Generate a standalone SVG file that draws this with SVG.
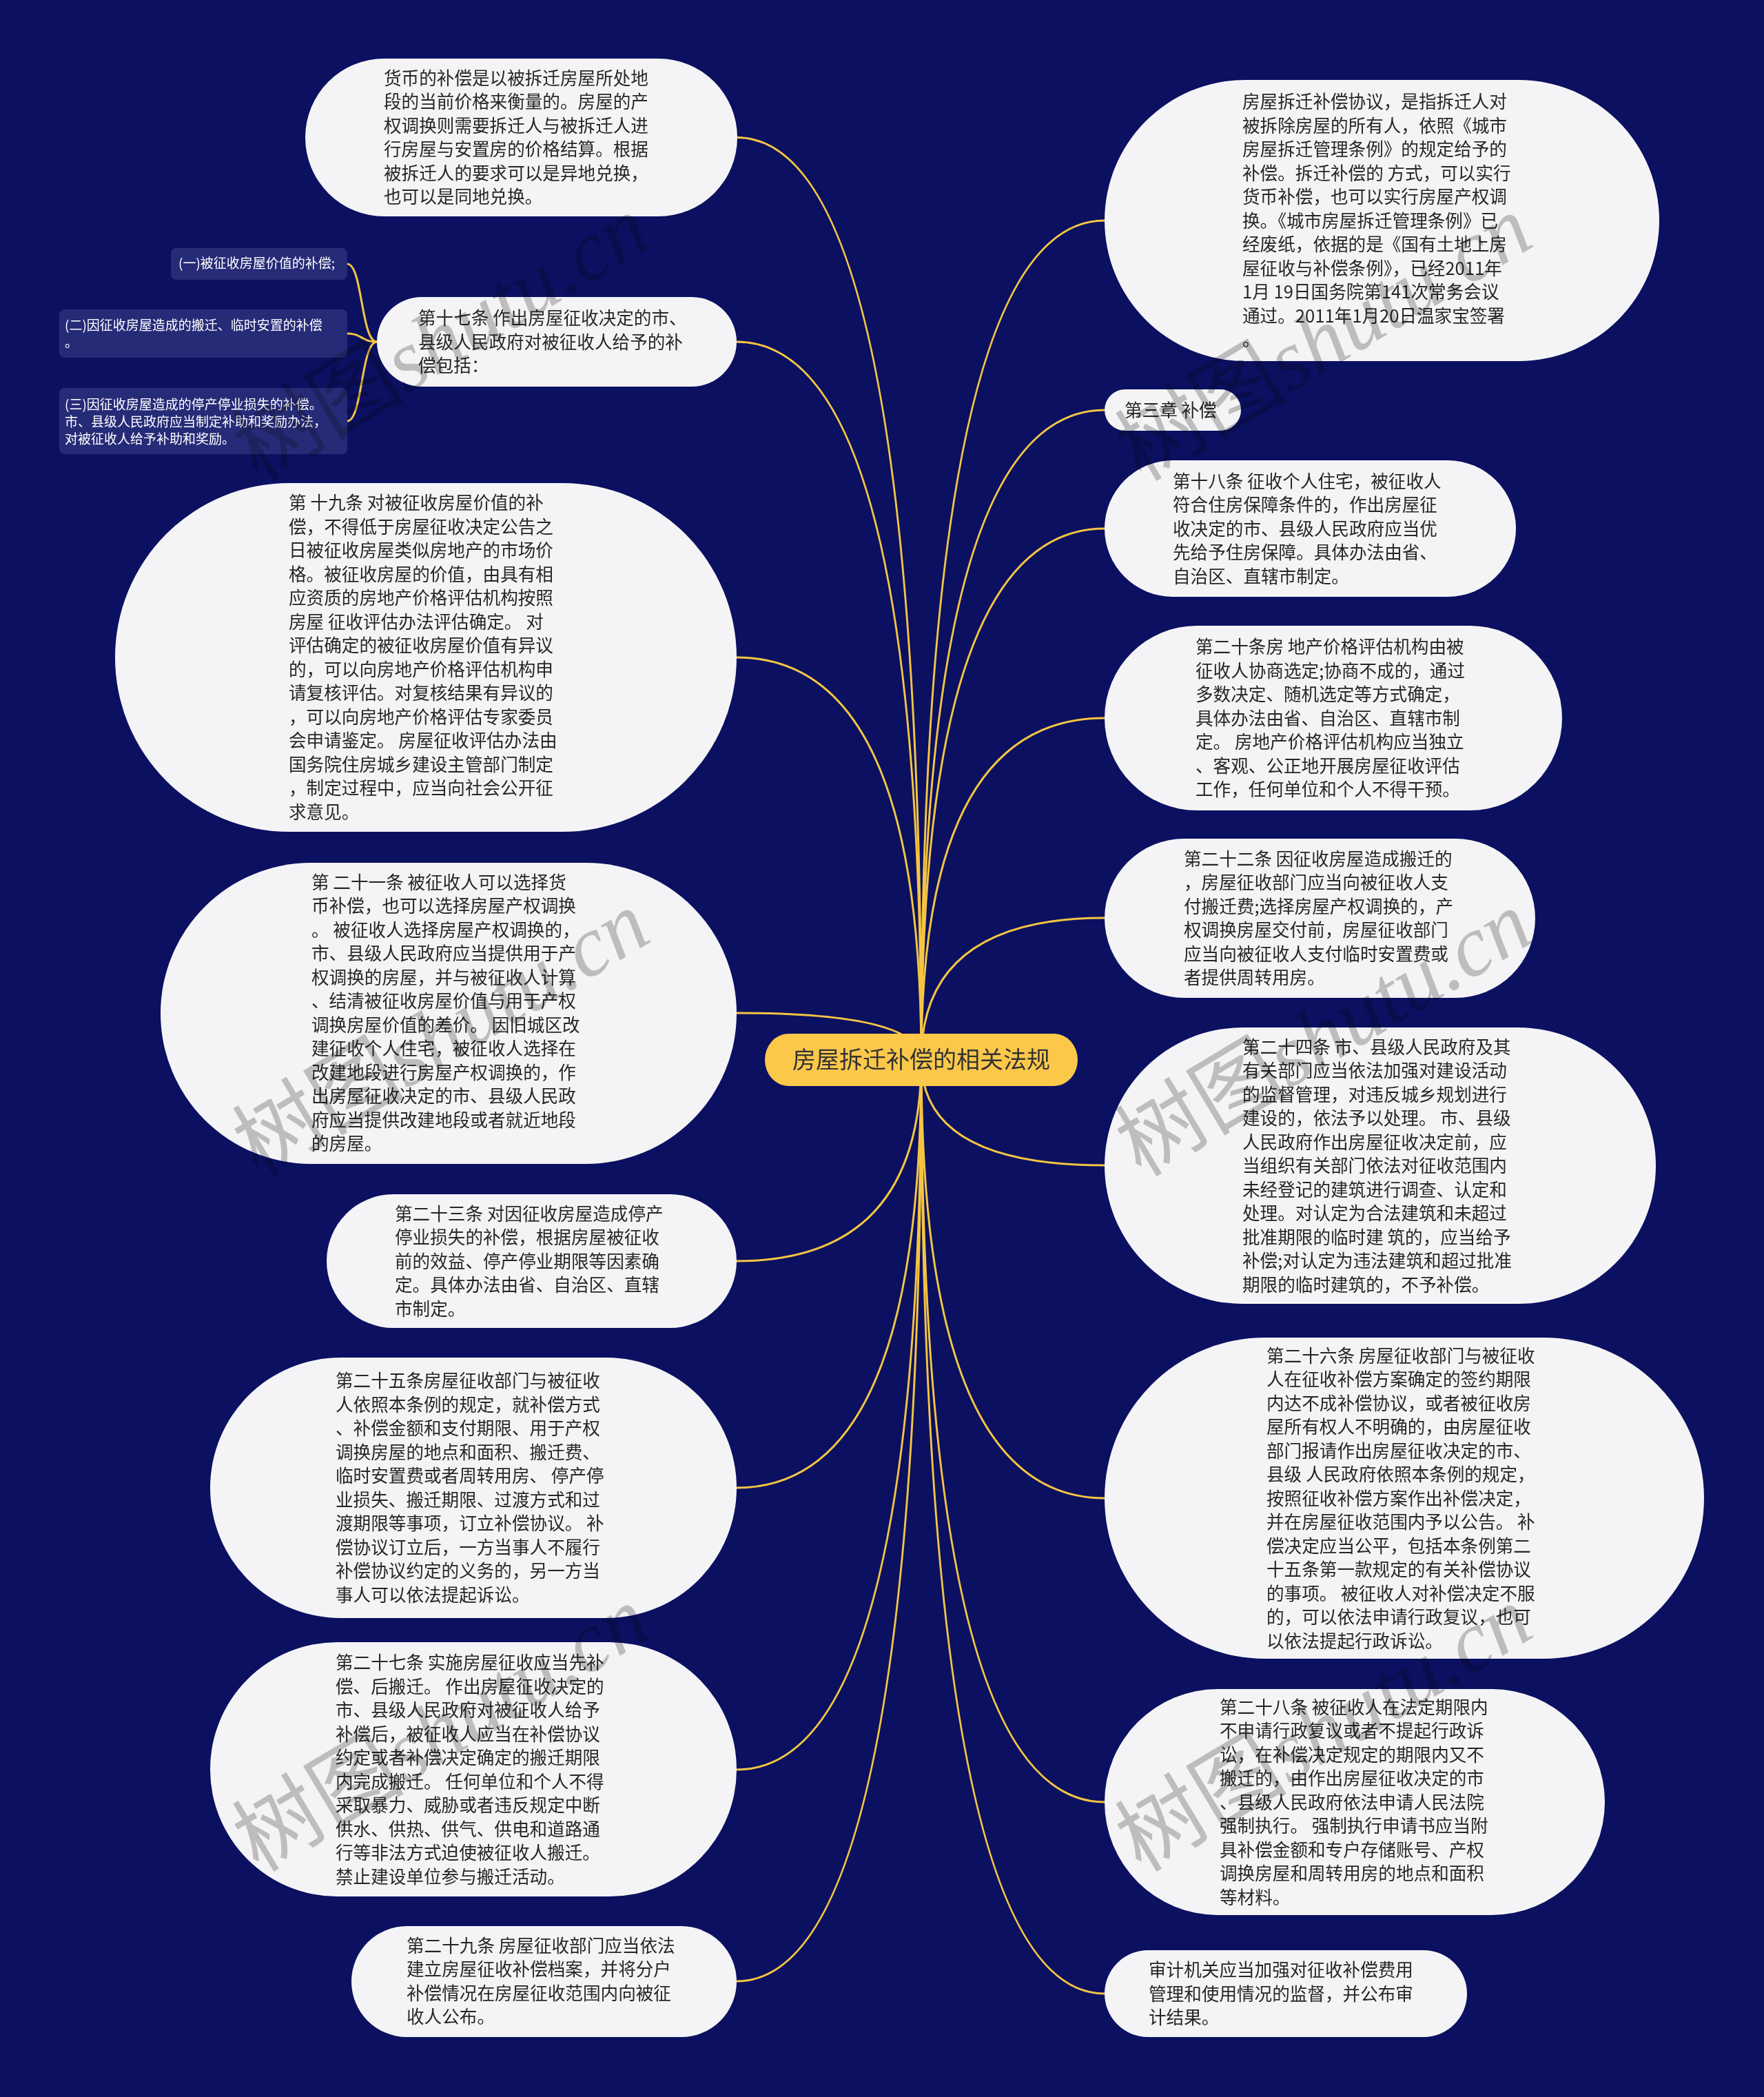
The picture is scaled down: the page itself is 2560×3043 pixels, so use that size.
<svg xmlns="http://www.w3.org/2000/svg" width="2560" height="3043" viewBox="0 0 2560 3043">
<style>
.bg{fill:#0b1061}
.node rect{fill:#f4f4f6}
.node text{font-family:"Noto Sans CJK SC","Liberation Sans",sans-serif;font-size:25.6px;fill:#262626}
.sub rect{fill:#262b78}
.sub text{font-family:"Noto Sans CJK SC","Liberation Sans",sans-serif;font-size:19px;fill:#ffffff}
.links path{fill:none;stroke:#f5c542;stroke-width:3}
.root rect{fill:#fbc84a}
.root text{font-family:"Noto Sans CJK SC","Liberation Sans",sans-serif;font-size:34px;fill:#333333}
.wm text{font-family:"Noto Sans CJK SC",sans-serif;font-size:125px;fill:#c6c6c6;mix-blend-mode:multiply}
.wm tspan.l{font-family:"Liberation Serif",serif;font-style:italic}
</style>
<rect class="bg" x="0" y="0" width="2560" height="3043"/>
<g class="links" id="connectors">
<path d="M1337 1538 Q1337 199.5 1069 199.5"/>
<path d="M1337 1538 Q1337 496 1069 496"/>
<path d="M1337 1538 Q1337 954 1069 954"/>
<path d="M1337 1538 Q1337 1470 1069 1470"/>
<path d="M1337 1538 Q1337 1830 1069 1830"/>
<path d="M1337 1538 Q1337 2159 1069 2159"/>
<path d="M1337 1538 Q1337 2568 1069 2568"/>
<path d="M1337 1538 Q1337 2875 1069 2875"/>
<path d="M1337 1538 Q1337 320 1603 320"/>
<path d="M1337 1538 Q1337 595 1603 595"/>
<path d="M1337 1538 Q1337 767 1603 767"/>
<path d="M1337 1538 Q1337 1042 1603 1042"/>
<path d="M1337 1538 Q1337 1332 1603 1332"/>
<path d="M1337 1538 Q1337 1691 1603 1691"/>
<path d="M1337 1538 Q1337 2174 1603 2174"/>
<path d="M1337 1538 Q1337 2615 1603 2615"/>
<path d="M1337 1538 Q1337 2893 1603 2893"/>
<path d="M547 496 C524 496 526 383 504 383"/>
<path d="M547 496 C524 496 526 484 504 484"/>
<path d="M547 496 C524 496 526 611 504 611"/>
</g>
<g class="root" id="root">
<rect x="1110" y="1500" width="454" height="76" rx="34" ry="38"/>
<text x="1337" y="1550" text-anchor="middle">房屋拆迁补偿的相关法规</text>
</g>
<g class="node" id="L1">
<rect x="443" y="85" width="627" height="229" rx="114.5"/>
<text x="557" y="122.75"><tspan x="557">货币的补偿是以被拆迁房屋所处地</tspan><tspan x="557" dy="34.5">段的当前价格来衡量的。房屋的产</tspan><tspan x="557" dy="34.5">权调换则需要拆迁人与被拆迁人进</tspan><tspan x="557" dy="34.5">行房屋与安置房的价格结算。根据</tspan><tspan x="557" dy="34.5">被拆迁人的要求可以是异地兑换，</tspan><tspan x="557" dy="34.5">也可以是同地兑换。</tspan></text>
</g>
<g class="node" id="L2">
<rect x="547" y="431" width="522" height="130" rx="65"/>
<text x="607" y="471"><tspan x="607">第十七条 作出房屋征收决定的市、</tspan><tspan x="607" dy="34.5">县级人民政府对被征收人给予的补</tspan><tspan x="607" dy="34.5">偿包括：</tspan></text>
</g>
<g class="sub" id="S1">
<rect x="248" y="360" width="256" height="46" rx="8"/>
<text x="259" y="389">(一)被征收房屋价值的补偿;</text>
</g>
<g class="sub" id="S2">
<rect x="86" y="449" width="418" height="70" rx="8"/>
<text x="94" y="479"><tspan x="94">(二)因征收房屋造成的搬迁、临时安置的补偿</tspan><tspan x="94" dy="25">。</tspan></text>
</g>
<g class="sub" id="S3">
<rect x="86" y="563" width="418" height="96" rx="8"/>
<text x="94" y="594"><tspan x="94">(三)因征收房屋造成的停产停业损失的补偿。</tspan><tspan x="94" dy="25">市、县级人民政府应当制定补助和奖励办法，</tspan><tspan x="94" dy="25">对被征收人给予补助和奖励。</tspan></text>
</g>
<g class="node" id="L3">
<rect x="167" y="701" width="902" height="506" rx="253"/>
<text x="419" y="739.25"><tspan x="419">第 十九条 对被征收房屋价值的补</tspan><tspan x="419" dy="34.5">偿，不得低于房屋征收决定公告之</tspan><tspan x="419" dy="34.5">日被征收房屋类似房地产的市场价</tspan><tspan x="419" dy="34.5">格。被征收房屋的价值，由具有相</tspan><tspan x="419" dy="34.5">应资质的房地产价格评估机构按照</tspan><tspan x="419" dy="34.5">房屋 征收评估办法评估确定。 对</tspan><tspan x="419" dy="34.5">评估确定的被征收房屋价值有异议</tspan><tspan x="419" dy="34.5">的，可以向房地产价格评估机构申</tspan><tspan x="419" dy="34.5">请复核评估。对复核结果有异议的</tspan><tspan x="419" dy="34.5">，可以向房地产价格评估专家委员</tspan><tspan x="419" dy="34.5">会申请鉴定。 房屋征收评估办法由</tspan><tspan x="419" dy="34.5">国务院住房城乡建设主管部门制定</tspan><tspan x="419" dy="34.5">，制定过程中，应当向社会公开征</tspan><tspan x="419" dy="34.5">求意见。</tspan></text>
</g>
<g class="node" id="L4">
<rect x="233" y="1252" width="836" height="437" rx="218.5"/>
<text x="452" y="1289.75"><tspan x="452">第 二十一条 被征收人可以选择货</tspan><tspan x="452" dy="34.5">币补偿，也可以选择房屋产权调换</tspan><tspan x="452" dy="34.5">。 被征收人选择房屋产权调换的，</tspan><tspan x="452" dy="34.5">市、县级人民政府应当提供用于产</tspan><tspan x="452" dy="34.5">权调换的房屋，并与被征收人计算</tspan><tspan x="452" dy="34.5">、结清被征收房屋价值与用于产权</tspan><tspan x="452" dy="34.5">调换房屋价值的差价。 因旧城区改</tspan><tspan x="452" dy="34.5">建征收个人住宅，被征收人选择在</tspan><tspan x="452" dy="34.5">改建地段进行房屋产权调换的，作</tspan><tspan x="452" dy="34.5">出房屋征收决定的市、县级人民政</tspan><tspan x="452" dy="34.5">府应当提供改建地段或者就近地段</tspan><tspan x="452" dy="34.5">的房屋。</tspan></text>
</g>
<g class="node" id="L5">
<rect x="474" y="1733" width="595" height="194" rx="97"/>
<text x="573" y="1770.5"><tspan x="573">第二十三条 对因征收房屋造成停产</tspan><tspan x="573" dy="34.5">停业损失的补偿，根据房屋被征收</tspan><tspan x="573" dy="34.5">前的效益、停产停业期限等因素确</tspan><tspan x="573" dy="34.5">定。具体办法由省、自治区、直辖</tspan><tspan x="573" dy="34.5">市制定。</tspan></text>
</g>
<g class="node" id="L6">
<rect x="305" y="1970" width="764" height="378" rx="189"/>
<text x="487" y="2013.25"><tspan x="487">第二十五条房屋征收部门与被征收</tspan><tspan x="487" dy="34.5">人依照本条例的规定，就补偿方式</tspan><tspan x="487" dy="34.5">、补偿金额和支付期限、用于产权</tspan><tspan x="487" dy="34.5">调换房屋的地点和面积、搬迁费、</tspan><tspan x="487" dy="34.5">临时安置费或者周转用房、 停产停</tspan><tspan x="487" dy="34.5">业损失、搬迁期限、过渡方式和过</tspan><tspan x="487" dy="34.5">渡期限等事项，订立补偿协议。 补</tspan><tspan x="487" dy="34.5">偿协议订立后，一方当事人不履行</tspan><tspan x="487" dy="34.5">补偿协议约定的义务的，另一方当</tspan><tspan x="487" dy="34.5">事人可以依法提起诉讼。</tspan></text>
</g>
<g class="node" id="L7">
<rect x="305" y="2383" width="764" height="369" rx="184.5"/>
<text x="487" y="2422.25"><tspan x="487">第二十七条 实施房屋征收应当先补</tspan><tspan x="487" dy="34.5">偿、后搬迁。 作出房屋征收决定的</tspan><tspan x="487" dy="34.5">市、县级人民政府对被征收人给予</tspan><tspan x="487" dy="34.5">补偿后，被征收人应当在补偿协议</tspan><tspan x="487" dy="34.5">约定或者补偿决定确定的搬迁期限</tspan><tspan x="487" dy="34.5">内完成搬迁。 任何单位和个人不得</tspan><tspan x="487" dy="34.5">采取暴力、威胁或者违反规定中断</tspan><tspan x="487" dy="34.5">供水、供热、供气、供电和道路通</tspan><tspan x="487" dy="34.5">行等非法方式迫使被征收人搬迁。</tspan><tspan x="487" dy="34.5">禁止建设单位参与搬迁活动。</tspan></text>
</g>
<g class="node" id="L8">
<rect x="510" y="2795" width="559" height="161" rx="80.5"/>
<text x="590" y="2832.75"><tspan x="590">第二十九条 房屋征收部门应当依法</tspan><tspan x="590" dy="34.5">建立房屋征收补偿档案，并将分户</tspan><tspan x="590" dy="34.5">补偿情况在房屋征收范围内向被征</tspan><tspan x="590" dy="34.5">收人公布。</tspan></text>
</g>
<g class="node" id="R1">
<rect x="1603" y="116" width="805" height="408" rx="204"/>
<text x="1803" y="157"><tspan x="1803">房屋拆迁补偿协议，是指拆迁人对</tspan><tspan x="1803" dy="34.5">被拆除房屋的所有人，依照《城市</tspan><tspan x="1803" dy="34.5">房屋拆迁管理条例》的规定给予的</tspan><tspan x="1803" dy="34.5">补偿。拆迁补偿的 方式，可以实行</tspan><tspan x="1803" dy="34.5">货币补偿，也可以实行房屋产权调</tspan><tspan x="1803" dy="34.5">换。《城市房屋拆迁管理条例》已</tspan><tspan x="1803" dy="34.5">经废纸，依据的是《国有土地上房</tspan><tspan x="1803" dy="34.5">屋征收与补偿条例》，已经2011年</tspan><tspan x="1803" dy="34.5">1月 19日国务院第141次常务会议</tspan><tspan x="1803" dy="34.5">通过。2011年1月20日温家宝签署</tspan><tspan x="1803" dy="34.5">。</tspan></text>
</g>
<g class="node" id="R2">
<rect x="1603" y="565" width="198" height="60" rx="30"/>
<text x="1632" y="604.5">第三章 补偿</text>
</g>
<g class="node" id="R3">
<rect x="1603" y="668" width="597" height="198" rx="99"/>
<text x="1702" y="707.5"><tspan x="1702">第十八条 征收个人住宅，被征收人</tspan><tspan x="1702" dy="34.5">符合住房保障条件的，作出房屋征</tspan><tspan x="1702" dy="34.5">收决定的市、县级人民政府应当优</tspan><tspan x="1702" dy="34.5">先给予住房保障。具体办法由省、</tspan><tspan x="1702" dy="34.5">自治区、直辖市制定。</tspan></text>
</g>
<g class="node" id="R4">
<rect x="1603" y="908" width="664" height="268" rx="134"/>
<text x="1735" y="948"><tspan x="1735">第二十条房 地产价格评估机构由被</tspan><tspan x="1735" dy="34.5">征收人协商选定;协商不成的，通过</tspan><tspan x="1735" dy="34.5">多数决定、随机选定等方式确定，</tspan><tspan x="1735" dy="34.5">具体办法由省、自治区、直辖市制</tspan><tspan x="1735" dy="34.5">定。 房地产价格评估机构应当独立</tspan><tspan x="1735" dy="34.5">、客观、公正地开展房屋征收评估</tspan><tspan x="1735" dy="34.5">工作，任何单位和个人不得干预。</tspan></text>
</g>
<g class="node" id="R5">
<rect x="1603" y="1217" width="625" height="231" rx="115.5"/>
<text x="1718" y="1255.75"><tspan x="1718">第二十二条 因征收房屋造成搬迁的</tspan><tspan x="1718" dy="34.5">，房屋征收部门应当向被征收人支</tspan><tspan x="1718" dy="34.5">付搬迁费;选择房屋产权调换的，产</tspan><tspan x="1718" dy="34.5">权调换房屋交付前，房屋征收部门</tspan><tspan x="1718" dy="34.5">应当向被征收人支付临时安置费或</tspan><tspan x="1718" dy="34.5">者提供周转用房。</tspan></text>
</g>
<g class="node" id="R6">
<rect x="1603" y="1491" width="800" height="401" rx="200.5"/>
<text x="1803" y="1528.5"><tspan x="1803">第二十四条 市、县级人民政府及其</tspan><tspan x="1803" dy="34.5">有关部门应当依法加强对建设活动</tspan><tspan x="1803" dy="34.5">的监督管理，对违反城乡规划进行</tspan><tspan x="1803" dy="34.5">建设的，依法予以处理。 市、县级</tspan><tspan x="1803" dy="34.5">人民政府作出房屋征收决定前，应</tspan><tspan x="1803" dy="34.5">当组织有关部门依法对征收范围内</tspan><tspan x="1803" dy="34.5">未经登记的建筑进行调查、认定和</tspan><tspan x="1803" dy="34.5">处理。对认定为合法建筑和未超过</tspan><tspan x="1803" dy="34.5">批准期限的临时建 筑的，应当给予</tspan><tspan x="1803" dy="34.5">补偿;对认定为违法建筑和超过批准</tspan><tspan x="1803" dy="34.5">期限的临时建筑的，不予补偿。</tspan></text>
</g>
<g class="node" id="R7">
<rect x="1603" y="1941" width="870" height="466" rx="233"/>
<text x="1838" y="1976.5"><tspan x="1838">第二十六条 房屋征收部门与被征收</tspan><tspan x="1838" dy="34.5">人在征收补偿方案确定的签约期限</tspan><tspan x="1838" dy="34.5">内达不成补偿协议，或者被征收房</tspan><tspan x="1838" dy="34.5">屋所有权人不明确的，由房屋征收</tspan><tspan x="1838" dy="34.5">部门报请作出房屋征收决定的市、</tspan><tspan x="1838" dy="34.5">县级 人民政府依照本条例的规定，</tspan><tspan x="1838" dy="34.5">按照征收补偿方案作出补偿决定，</tspan><tspan x="1838" dy="34.5">并在房屋征收范围内予以公告。 补</tspan><tspan x="1838" dy="34.5">偿决定应当公平，包括本条例第二</tspan><tspan x="1838" dy="34.5">十五条第一款规定的有关补偿协议</tspan><tspan x="1838" dy="34.5">的事项。 被征收人对补偿决定不服</tspan><tspan x="1838" dy="34.5">的，可以依法申请行政复议，也可</tspan><tspan x="1838" dy="34.5">以依法提起行政诉讼。</tspan></text>
</g>
<g class="node" id="R8">
<rect x="1603" y="2451" width="726" height="328" rx="164"/>
<text x="1770" y="2486.5"><tspan x="1770">第二十八条 被征收人在法定期限内</tspan><tspan x="1770" dy="34.5">不申请行政复议或者不提起行政诉</tspan><tspan x="1770" dy="34.5">讼，在补偿决定规定的期限内又不</tspan><tspan x="1770" dy="34.5">搬迁的，由作出房屋征收决定的市</tspan><tspan x="1770" dy="34.5">、县级人民政府依法申请人民法院</tspan><tspan x="1770" dy="34.5">强制执行。 强制执行申请书应当附</tspan><tspan x="1770" dy="34.5">具补偿金额和专户存储账号、产权</tspan><tspan x="1770" dy="34.5">调换房屋和周转用房的地点和面积</tspan><tspan x="1770" dy="34.5">等材料。</tspan></text>
</g>
<g class="node" id="R9">
<rect x="1603" y="2830" width="526" height="126" rx="63"/>
<text x="1667" y="2868"><tspan x="1667">审计机关应当加强对征收补偿费用</tspan><tspan x="1667" dy="34.5">管理和使用情况的监督，并公布审</tspan><tspan x="1667" dy="34.5">计结果。</tspan></text>
</g>
<g class="wm" id="watermark">
<text transform="translate(375 700) rotate(-31)">树图<tspan class="l">shutu.cn</tspan></text>
<text transform="translate(375 1709) rotate(-31)">树图<tspan class="l">shutu.cn</tspan></text>
<text transform="translate(375 2718) rotate(-31)">树图<tspan class="l">shutu.cn</tspan></text>
<text transform="translate(1656 700) rotate(-31)">树图<tspan class="l">shutu.cn</tspan></text>
<text transform="translate(1656 1709) rotate(-31)">树图<tspan class="l">shutu.cn</tspan></text>
<text transform="translate(1656 2718) rotate(-31)">树图<tspan class="l">shutu.cn</tspan></text>
</g>
</svg>
